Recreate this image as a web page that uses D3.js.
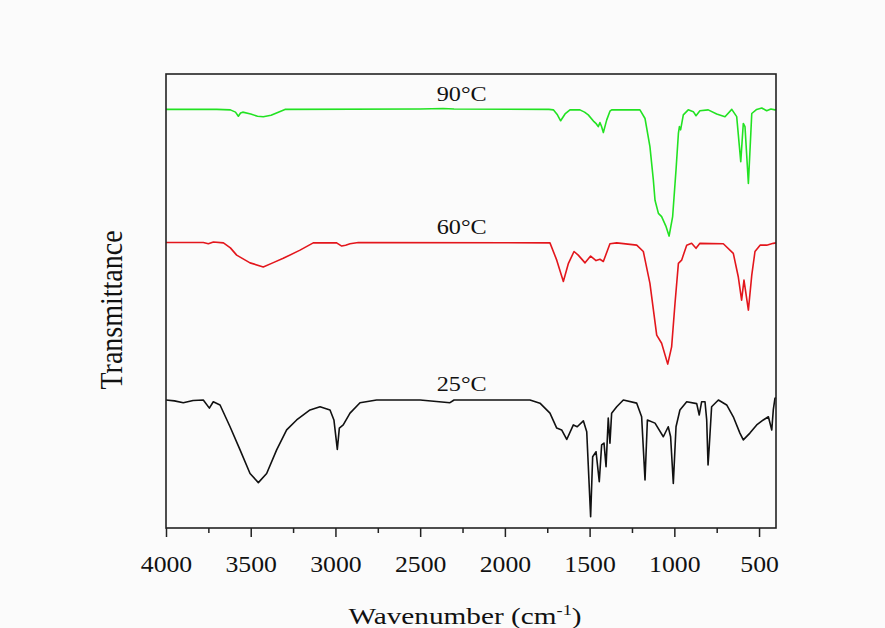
<!DOCTYPE html>
<html>
<head>
<meta charset="utf-8">
<script src="https://cdn.jsdelivr.net/npm/d3@7"></script>
<style>
  html, body { margin: 0; padding: 0; background: #fbfbfb; }
  svg { display: block; font-family: "Liberation Serif", "Times New Roman", serif; }
</style>
</head>
<body>
<div id="chart"></div>
<script>
// FTIR spectra, [wavenumber, transmittance (a.u.)]
var seriesNames = ["25°C", "60°C", "90°C"];
var seriesColors = ["#111111", "#e3161c", "#22e222"];

var spec25 = [
  [4000, 28.2], [3950, 28.0], [3898, 27.6], [3840, 28.1], [3780, 28.2], [3744, 26.4], [3721, 27.8],
  [3681, 27.1], [3622, 22.3], [3563, 17.2], [3504, 12.0], [3455, 10.0], [3406, 12.0], [3347, 17.2],
  [3288, 21.6], [3229, 23.8], [3150, 26.0], [3091, 26.7], [3032, 26.0], [3009, 23.8], [2989, 17.3],
  [2977, 22.0], [2954, 22.7], [2914, 25.3], [2855, 27.6], [2757, 28.2], [2500, 28.2], [2324, 27.6],
  [2300, 28.2], [1852, 28.2], [1793, 27.5], [1734, 25.3], [1694, 22.0], [1665, 21.6], [1635, 19.5],
  [1596, 22.7], [1573, 22.3], [1537, 23.6], [1517, 21.2], [1494, 2.5], [1482, 15.7], [1462, 16.8],
  [1443, 10.2], [1429, 18.3], [1415, 18.7], [1403, 13.5], [1390, 24.2], [1380, 18.7], [1370, 25.3],
  [1340, 26.7], [1301, 28.2], [1222, 27.5], [1193, 24.5], [1173, 10.6], [1159, 23.8], [1114, 23.1],
  [1065, 20.1], [1036, 22.3], [1022, 20.1], [1006, 9.8], [990, 22.3], [967, 26.0], [927, 27.8],
  [868, 27.4], [853, 24.9], [839, 27.8], [819, 27.8], [809, 23.8], [801, 13.9], [794, 17.9],
  [780, 26.7], [740, 28.2], [691, 27.1], [652, 24.5], [613, 20.9], [593, 19.4], [554, 20.9],
  [514, 22.7], [475, 23.8], [445, 24.5], [425, 21.6], [416, 26.0], [406, 28.6], [400, 28.7]
];

var spec60 = [
  [4000, 62.9], [3780, 62.9], [3750, 62.6], [3720, 63.0], [3661, 62.8], [3620, 61.7], [3583, 60.1],
  [3504, 58.4], [3426, 57.5], [3370, 58.4], [3308, 59.4], [3209, 61.2], [3131, 62.8], [2993, 62.8],
  [2963, 62.1], [2940, 62.3], [2914, 62.6], [2865, 62.9], [1734, 62.8], [1694, 59.0], [1655, 54.3],
  [1625, 58.3], [1592, 60.9], [1567, 60.1], [1527, 58.4], [1494, 59.9], [1462, 58.9], [1439, 59.2],
  [1419, 58.7], [1380, 62.6], [1340, 62.8], [1222, 62.3], [1183, 60.9], [1144, 53.9], [1104, 42.5],
  [1075, 40.7], [1039, 36.1], [1016, 39.9], [996, 49.5], [976, 58.3], [957, 59.0], [927, 62.3],
  [898, 62.7], [872, 61.6], [849, 62.7], [711, 62.6], [652, 60.5], [623, 55.4], [603, 50.2],
  [589, 54.6], [563, 48.0], [543, 55.7], [524, 60.9], [494, 62.3], [455, 62.3], [416, 62.7], [400, 62.8]
];

var spec90 = [
  [4000, 92.2], [3700, 92.2], [3620, 92.1], [3590, 91.6], [3573, 90.7], [3560, 91.4], [3547, 91.6],
  [3500, 91.2], [3460, 90.7], [3426, 90.6], [3380, 90.9], [3330, 91.7], [3298, 92.2], [2500, 92.3],
  [2365, 92.4], [2300, 92.3], [1740, 92.2], [1714, 92.1], [1690, 91.0], [1671, 89.7], [1645, 91.2],
  [1616, 92.1], [1557, 92.1], [1530, 91.6], [1508, 91.0], [1474, 89.5], [1460, 89.0], [1449, 88.4],
  [1439, 89.3], [1430, 88.5], [1419, 87.1], [1399, 89.9], [1380, 91.8], [1370, 92.1], [1203, 92.1],
  [1173, 90.2], [1144, 84.0], [1124, 76.7], [1114, 72.2], [1094, 69.3], [1075, 68.6], [1050, 66.5],
  [1031, 64.3], [1010, 68.6], [990, 78.9], [976, 86.9], [970, 88.4], [963, 87.7], [947, 91.0],
  [918, 92.1], [888, 91.7], [872, 90.8], [849, 91.9], [800, 92.1], [750, 91.2], [701, 90.6],
  [661, 92.2], [632, 90.6], [608, 80.7], [593, 89.1], [583, 88.4], [563, 75.9], [543, 91.3],
  [514, 92.2], [484, 92.5], [455, 91.9], [430, 92.3], [406, 92.1], [400, 92.1]
];

var allSeries = [spec25, spec60, spec90];
var xTicks = [4000, 3500, 3000, 2500, 2000, 1500, 1000, 500];
var xMinorTicks = [3750, 3250, 2750, 2250, 1750, 1250, 750];

var width = 885, height = 628;
var margin = { top: 74, right: 109, bottom: 100, left: 166 };
var plotW = width - margin.left - margin.right;
var plotH = height - margin.top - margin.bottom;

var x = d3.scaleLinear().domain([4000, 400]).range([0, plotW]);
var y = d3.scaleLinear().domain([0, 100]).range([plotH, 0]);

var svg = d3.select("#chart").append("svg")
    .attr("width", width)
    .attr("height", height);

var g = svg.append("g")
    .attr("transform", "translate(" + margin.left + "," + margin.top + ")");

// spectra
var line = d3.line()
    .x(function(d) { return x(d[0]); })
    .y(function(d) { return y(d[1]); });

g.selectAll(".spec")
    .data(allSeries)
    .enter().append("path")
    .attr("class", "spec")
    .attr("d", line)
    .attr("fill", "none")
    .attr("stroke", function(d, i) { return seriesColors[i]; })
    .attr("stroke-width", 1.6)
    .attr("stroke-linejoin", "round");

// series labels, just above each baseline
g.selectAll(".lbl")
    .data(allSeries)
    .enter().append("text")
    .attr("class", "lbl")
    .attr("transform", function(d) {
        return "translate(" + x(2255) + "," + (y(d[0][1]) - 8.5) + ") scale(1.1,1)";
    })
    .attr("text-anchor", "middle")
    .attr("font-size", 22)
    .attr("fill", "#111")
    .text(function(d, i) { return seriesNames[i]; });

// frame
g.append("rect")
    .attr("width", plotW)
    .attr("height", plotH)
    .attr("fill", "none")
    .attr("stroke", "#222")
    .attr("stroke-width", 1.6);

// bottom axis
var xAxis = d3.axisBottom(x)
    .tickValues(xTicks)
    .tickSize(9)
    .tickPadding(19)
    .tickFormat(d3.format("d"));

var ax = g.append("g")
    .attr("transform", "translate(0," + plotH + ")")
    .call(xAxis);
ax.select(".domain").remove();
ax.selectAll(".tick line").attr("stroke", "#222").attr("stroke-width", 1.5);
ax.selectAll(".tick text")
    .attr("font-family", "Liberation Serif, Times New Roman, serif")
    .attr("font-size", 23)
    .attr("fill", "#111")
    .attr("transform", "scale(1.12,1)");

var axMinor = g.append("g")
    .attr("transform", "translate(0," + plotH + ")")
    .call(d3.axisBottom(x).tickValues(xMinorTicks).tickSize(5).tickFormat(""));
axMinor.select(".domain").remove();
axMinor.selectAll(".tick line").attr("stroke", "#222").attr("stroke-width", 1.5);

// axis titles
var xt = svg.append("text")
    .attr("transform", "translate(" + (margin.left + plotW / 2 - 6) + ",624) scale(1.22,1)")
    .attr("text-anchor", "middle")
    .attr("font-size", 24)
    .attr("fill", "#111");
xt.append("tspan").text("Wavenumber (cm");
xt.append("tspan").attr("font-size", 15).attr("dy", -9).text("-1");
xt.append("tspan").attr("dy", 9).text(")");

svg.append("text")
    .attr("transform", "translate(122,310) scale(1.1,1) rotate(-90)")
    .attr("text-anchor", "middle")
    .attr("font-size", 28)
    .attr("fill", "#111")
    .text("Transmittance");
</script>
</body>
</html>
